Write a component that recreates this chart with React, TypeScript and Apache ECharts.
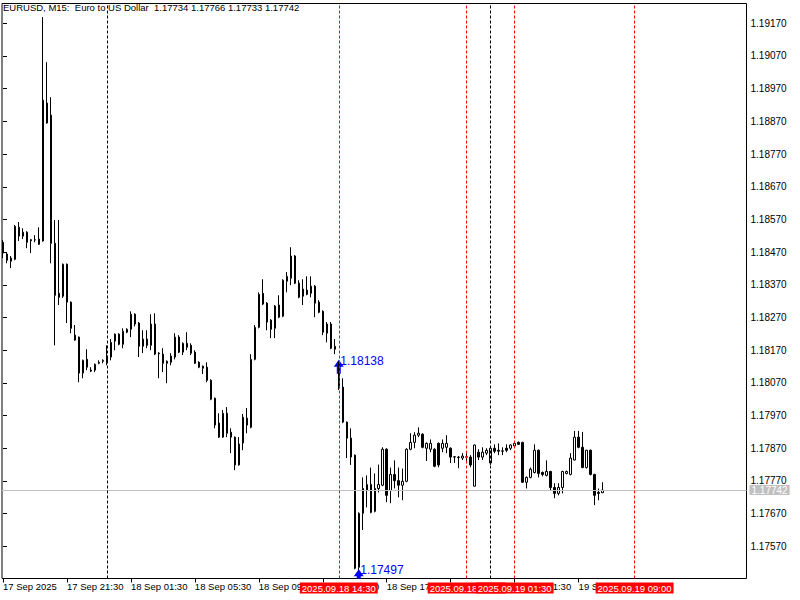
import React, { useEffect, useRef } from "react";
import * as echarts from "echarts";

// M15 bars, starting 2025.09.17 17:30
const opens = [
  1.18500, 1.18464, 1.18442, 1.18448, 1.18546, 1.18519, 1.18531, 1.18508, 1.18507, 1.18510,
  1.18504, 1.18926, 1.18889, 1.18497, 1.18344, 1.18335, 1.18433, 1.18317, 1.18216, 1.18210,
  1.18100, 1.18142, 1.18109, 1.18109, 1.18130, 1.18136, 1.18133, 1.18149, 1.18198, 1.18219,
  1.18188, 1.18225, 1.18234, 1.18280, 1.18253, 1.18182, 1.18204, 1.18185, 1.18250, 1.18161,
  1.18158, 1.18136, 1.18133, 1.18149, 1.18210, 1.18164, 1.18191, 1.18185, 1.18164, 1.18133,
  1.18121, 1.18118, 1.18078, 1.18023, 1.17947, 1.17904, 1.17977, 1.17919, 1.17904, 1.17819,
  1.17886, 1.17962, 1.17934, 1.18142, 1.18240, 1.18344, 1.18314, 1.18262, 1.18237, 1.18308,
  1.18274, 1.18381, 1.18390, 1.18458, 1.18375, 1.18335, 1.18354, 1.18344, 1.18366, 1.18317,
  1.18289, 1.18222, 1.18250, 1.18173, 1.18133, 1.18057, 1.17950, 1.17901, 1.17849, 1.17506,
  1.17671, 1.17741, 1.17759, 1.17677, 1.17747, 1.17757, 1.17867, 1.17741, 1.17790, 1.17771,
  1.17757, 1.17769, 1.17867, 1.17888, 1.17910, 1.17913, 1.17870, 1.17867, 1.17867, 1.17885,
  1.17870, 1.17873, 1.17870, 1.17843, 1.17843, 1.17840, 1.17843, 1.17843, 1.17754, 1.17858,
  1.17843, 1.17855, 1.17825, 1.17870, 1.17864, 1.17861, 1.17870, 1.17870, 1.17877, 1.17888,
  1.17888, 1.17766, 1.17781, 1.17796, 1.17864, 1.17796, 1.17787, 1.17799, 1.17750, 1.17732,
  1.17750, 1.17793, 1.17790, 1.17834, 1.17904, 1.17873, 1.17811, 1.17864, 1.17790, 1.17735,
  1.17734,
];
const closes = [
  1.18467, 1.18445, 1.18452, 1.18549, 1.18519, 1.18531, 1.18500, 1.18505, 1.18508, 1.18494,
  1.18935, 1.18865, 1.18497, 1.18338, 1.18332, 1.18433, 1.18317, 1.18237, 1.18201, 1.18100,
  1.18139, 1.18118, 1.18106, 1.18127, 1.18133, 1.18139, 1.18152, 1.18194, 1.18219, 1.18188,
  1.18228, 1.18234, 1.18280, 1.18250, 1.18182, 1.18204, 1.18185, 1.18250, 1.18158, 1.18159,
  1.18130, 1.18130, 1.18152, 1.18210, 1.18164, 1.18191, 1.18179, 1.18161, 1.18130, 1.18118,
  1.18115, 1.18078, 1.18020, 1.17941, 1.17904, 1.17977, 1.17916, 1.17904, 1.17819, 1.17883,
  1.17965, 1.17941, 1.18142, 1.18240, 1.18341, 1.18311, 1.18256, 1.18234, 1.18305, 1.18271,
  1.18384, 1.18396, 1.18458, 1.18375, 1.18332, 1.18357, 1.18341, 1.18366, 1.18314, 1.18286,
  1.18225, 1.18250, 1.18176, 1.18182, 1.18054, 1.17950, 1.17901, 1.17843, 1.17503, 1.17671,
  1.17747, 1.17759, 1.17674, 1.17747, 1.17759, 1.17867, 1.17726, 1.17790, 1.17771, 1.17757,
  1.17769, 1.17867, 1.17888, 1.17910, 1.17916, 1.17873, 1.17885, 1.17885, 1.17815, 1.17819,
  1.17885, 1.17885, 1.17843, 1.17844, 1.17842, 1.17846, 1.17844, 1.17819, 1.17880, 1.17843,
  1.17858, 1.17864, 1.17870, 1.17861, 1.17861, 1.17862, 1.17864, 1.17880, 1.17885, 1.17882,
  1.17766, 1.17781, 1.17806, 1.17864, 1.17793, 1.17790, 1.17799, 1.17750, 1.17732, 1.17750,
  1.17799, 1.17799, 1.17840, 1.17904, 1.17873, 1.17811, 1.17864, 1.17790, 1.17726, 1.17732,
  1.17742,
];
const highs = [
  1.18507, 1.18470, 1.18458, 1.18553, 1.18562, 1.18543, 1.18534, 1.18510, 1.18522, 1.18546,
  1.19189, 1.19051, 1.18944, 1.18568, 1.18568, 1.18435, 1.18435, 1.18319, 1.18247, 1.18212,
  1.18141, 1.18173, 1.18118, 1.18129, 1.18139, 1.18142, 1.18185, 1.18204, 1.18221, 1.18222,
  1.18237, 1.18237, 1.18289, 1.18283, 1.18256, 1.18231, 1.18231, 1.18280, 1.18283, 1.18164,
  1.18176, 1.18139, 1.18161, 1.18222, 1.18216, 1.18194, 1.18225, 1.18191, 1.18170, 1.18136,
  1.18123, 1.18133, 1.18081, 1.18025, 1.17977, 1.17987, 1.17996, 1.17931, 1.17906, 1.17904,
  1.17975, 1.17993, 1.18158, 1.18247, 1.18347, 1.18387, 1.18317, 1.18265, 1.18308, 1.18338,
  1.18387, 1.18409, 1.18485, 1.18461, 1.18384, 1.18387, 1.18396, 1.18396, 1.18369, 1.18323,
  1.18292, 1.18256, 1.18256, 1.18204, 1.18136, 1.18084, 1.17952, 1.17931, 1.17851, 1.17674,
  1.17781, 1.17787, 1.17811, 1.17793, 1.17820, 1.17873, 1.17870, 1.17811, 1.17833, 1.17811,
  1.17808, 1.17870, 1.17916, 1.17919, 1.17934, 1.17916, 1.17888, 1.17897, 1.17870, 1.17888,
  1.17897, 1.17910, 1.17873, 1.17846, 1.17846, 1.17855, 1.17855, 1.17849, 1.17881, 1.17867,
  1.17873, 1.17870, 1.17873, 1.17882, 1.17885, 1.17873, 1.17882, 1.17882, 1.17888, 1.17891,
  1.17890, 1.17784, 1.17811, 1.17882, 1.17866, 1.17799, 1.17833, 1.17801, 1.17763, 1.17763,
  1.17801, 1.17802, 1.17855, 1.17923, 1.17923, 1.17920, 1.17865, 1.17866, 1.17792, 1.17747,
  1.17766,
];
const lows = [
  1.18452, 1.18436, 1.18421, 1.18445, 1.18504, 1.18510, 1.18482, 1.18467, 1.18500, 1.18492,
  1.18502, 1.18863, 1.18436, 1.18185, 1.18308, 1.18330, 1.18253, 1.18222, 1.18199, 1.18072,
  1.18084, 1.18109, 1.18103, 1.18103, 1.18127, 1.18130, 1.18124, 1.18139, 1.18170, 1.18185,
  1.18176, 1.18222, 1.18210, 1.18243, 1.18149, 1.18161, 1.18176, 1.18170, 1.18155, 1.18084,
  1.18103, 1.18069, 1.18124, 1.18142, 1.18161, 1.18155, 1.18170, 1.18155, 1.18128, 1.18115,
  1.18097, 1.18072, 1.18017, 1.17931, 1.17902, 1.17902, 1.17904, 1.17855, 1.17803, 1.17817,
  1.17864, 1.17916, 1.17931, 1.18139, 1.18237, 1.18308, 1.18231, 1.18207, 1.18207, 1.18268,
  1.18271, 1.18347, 1.18369, 1.18372, 1.18329, 1.18308, 1.18338, 1.18332, 1.18271, 1.18283,
  1.18216, 1.18194, 1.18173, 1.18158, 1.18048, 1.17947, 1.17840, 1.17819, 1.17500, 1.17497,
  1.17620, 1.17689, 1.17671, 1.17674, 1.17735, 1.17754, 1.17705, 1.17702, 1.17747, 1.17720,
  1.17711, 1.17766, 1.17864, 1.17870, 1.17904, 1.17870, 1.17831, 1.17858, 1.17812, 1.17812,
  1.17858, 1.17855, 1.17825, 1.17825, 1.17809, 1.17834, 1.17828, 1.17812, 1.17753, 1.17834,
  1.17834, 1.17849, 1.17819, 1.17855, 1.17849, 1.17849, 1.17858, 1.17864, 1.17873, 1.17880,
  1.17764, 1.17747, 1.17778, 1.17793, 1.17781, 1.17784, 1.17784, 1.17741, 1.17717, 1.17726,
  1.17732, 1.17790, 1.17787, 1.17833, 1.17870, 1.17809, 1.17808, 1.17787, 1.17696, 1.17711,
  1.17733,
];

const titleText = "EURUSD, M15:  Euro to US Dollar  1.17734 1.17766 1.17733 1.17742";

const xTickIdx = [0, 16, 32, 48, 64, 80, 96, 112, 128, 144];
const xTickLabels = [
  "17 Sep 2025", "17 Sep 21:30", "18 Sep 01:30", "18 Sep 05:30", "18 Sep 09:30",
  "18 Sep 13:30", "18 Sep 17:30", "18 Sep 21:30", "19 Sep 01:30", "19 Sep 05:30",
];

const yTickValues = [
  1.1757, 1.1767, 1.1777, 1.1787, 1.1797, 1.1807, 1.1817, 1.1827, 1.1837,
  1.1847, 1.1857, 1.1867, 1.1877, 1.1887, 1.1897, 1.1907, 1.1917,
];

const redLineIdx = [84, 116, 128, 158];
const redLineLabels = ["2025.09.18 14:30", "2025.09.18 22:30", "2025.09.19 01:30", "2025.09.19 09:00"];
const daySepIdx = [26, 122];

const bidPrice = 1.17742;

const arrowIdx = [84, 89];
const arrowPrice = [1.18138, 1.17497];
const arrowLabels = ["1.18138", "1.17497"];

const FONT = "'Liberation Sans', Arial, sans-serif";

export default function App() {
  const ref = useRef<HTMLDivElement>(null);

  useEffect(() => {
    if (!ref.current) return;
    const chart = echarts.init(ref.current, null, { renderer: "svg" });

    const candleData = opens.map((o, i) => [i, o, closes[i], lows[i], highs[i]]);

    const markData: any[] = [];
    markData.push({
      yAxis: bidPrice,
      lineStyle: { color: "#c0c0c0", type: "solid", width: 1 },
      label: {
        show: true,
        position: "end",
        distance: 3,
        formatter: bidPrice.toFixed(5),
        backgroundColor: "#c0c0c0",
        color: "#ffffff",
        fontSize: 10,
        fontFamily: FONT,
        lineHeight: 10,
        padding: [0, 2, 0, 2],
      },
    });
    daySepIdx.forEach((x) => {
      markData.push({
        xAxis: x,
        lineStyle: { color: "#000000", type: [3, 2], width: 1 },
        label: { show: false },
      });
    });
    redLineIdx.forEach((x, k) => {
      markData.push({
        xAxis: x,
        lineStyle: { color: "#ff0000", type: [3, 2], width: 1 },
        label: {
          show: true,
          position: "start",
          distance: 4,
          formatter: redLineLabels[k],
          backgroundColor: "#ff0000",
          color: "#ffffff",
          fontSize: 9.5,
          fontFamily: FONT,
          lineHeight: 10,
          padding: [1, 2, 0, 2],
        },
      });
    });

    chart.setOption({
      animation: false,
      backgroundColor: "#ffffff",
      title: {
        text: titleText,
        left: 3,
        top: 2,
        padding: 0,
        textStyle: { fontSize: 9.5, fontWeight: "normal", color: "#000000", fontFamily: FONT },
      },
      grid: {
        left: 1.5,
        top: 3.5,
        width: 745,
        height: 575,
        show: true,
        borderColor: "#000000",
        borderWidth: 1,
        backgroundColor: "transparent",
      },
      xAxis: {
        type: "value",
        min: -0.25,
        max: 186,
        position: "bottom",
        axisLine: { show: false },
        splitLine: { show: false },
        axisTick: { show: true, customValues: xTickIdx, length: 4, lineStyle: { color: "#000000" } },
        axisLabel: {
          customValues: xTickIdx,
          formatter: (v: number) => {
            const k = xTickIdx.indexOf(Math.round(v));
            return k >= 0 ? xTickLabels[k] : "";
          },
          align: "left",
          margin: 3,
          fontSize: 9.5,
          color: "#000000",
          fontFamily: FONT,
        },
      },
      yAxis: {
        type: "value",
        position: "right",
        min: 1.174716,
        max: 1.192306,
        axisLine: { show: false },
        splitLine: { show: false },
        axisTick: { show: true, customValues: yTickValues, length: 4, lineStyle: { color: "#000000" } },
        axisLabel: {
          customValues: yTickValues,
          formatter: (v: number) => v.toFixed(5),
          margin: 4,
          fontSize: 10,
          color: "#000000",
          fontFamily: FONT,
        },
      },
      series: [
        {
          type: "candlestick",
          data: candleData,
          encode: { x: 0, y: [1, 2, 3, 4] },
          barWidth: 2,
          itemStyle: {
            color: "#ffffff",
            color0: "#000000",
            borderColor: "#000000",
            borderColor0: "#000000",
            borderWidth: 1,
          },
          silent: true,
        },
        {
          type: "line",
          data: [],
          silent: true,
          markLine: {
            silent: true,
            precision: 5,
            symbol: ["none", "none"],
            animation: false,
            data: markData,
          },
        },
        {
          type: "custom",
          clip: true,
          silent: true,
          data: arrowIdx.map((x, k) => [x, arrowPrice[k]]),
          encode: { x: 0, y: 1 },
          renderItem: (params: any, api: any) => {
            const p = api.coord([api.value(0), api.value(1)]);
            const x = p[0];
            const y = p[1];
            return {
              type: "group",
              children: [
                {
                  type: "polygon",
                  shape: {
                    points: [
                      [x, y - 1],
                      [x + 5, y + 6],
                      [x + 2, y + 6],
                      [x + 2, y + 13],
                      [x - 2, y + 13],
                      [x - 2, y + 6],
                      [x - 5, y + 6],
                    ],
                  },
                  style: { fill: "#0000ff" },
                },
                {
                  type: "text",
                  x: x + 1.5,
                  y: y,
                  style: {
                    text: arrowLabels[params.dataIndex],
                    fill: "#0000ff",
                    fontSize: 12,
                    fontFamily: FONT,
                    align: "left",
                    verticalAlign: "middle",
                  },
                },
              ],
            };
          },
        },
      ],
    });

    return () => chart.dispose();
  }, []);

  return (
    <div
      ref={ref}
      style={{ position: "absolute", left: 0, top: 0, width: 800, height: 600, background: "#fff" }}
    />
  );
}
